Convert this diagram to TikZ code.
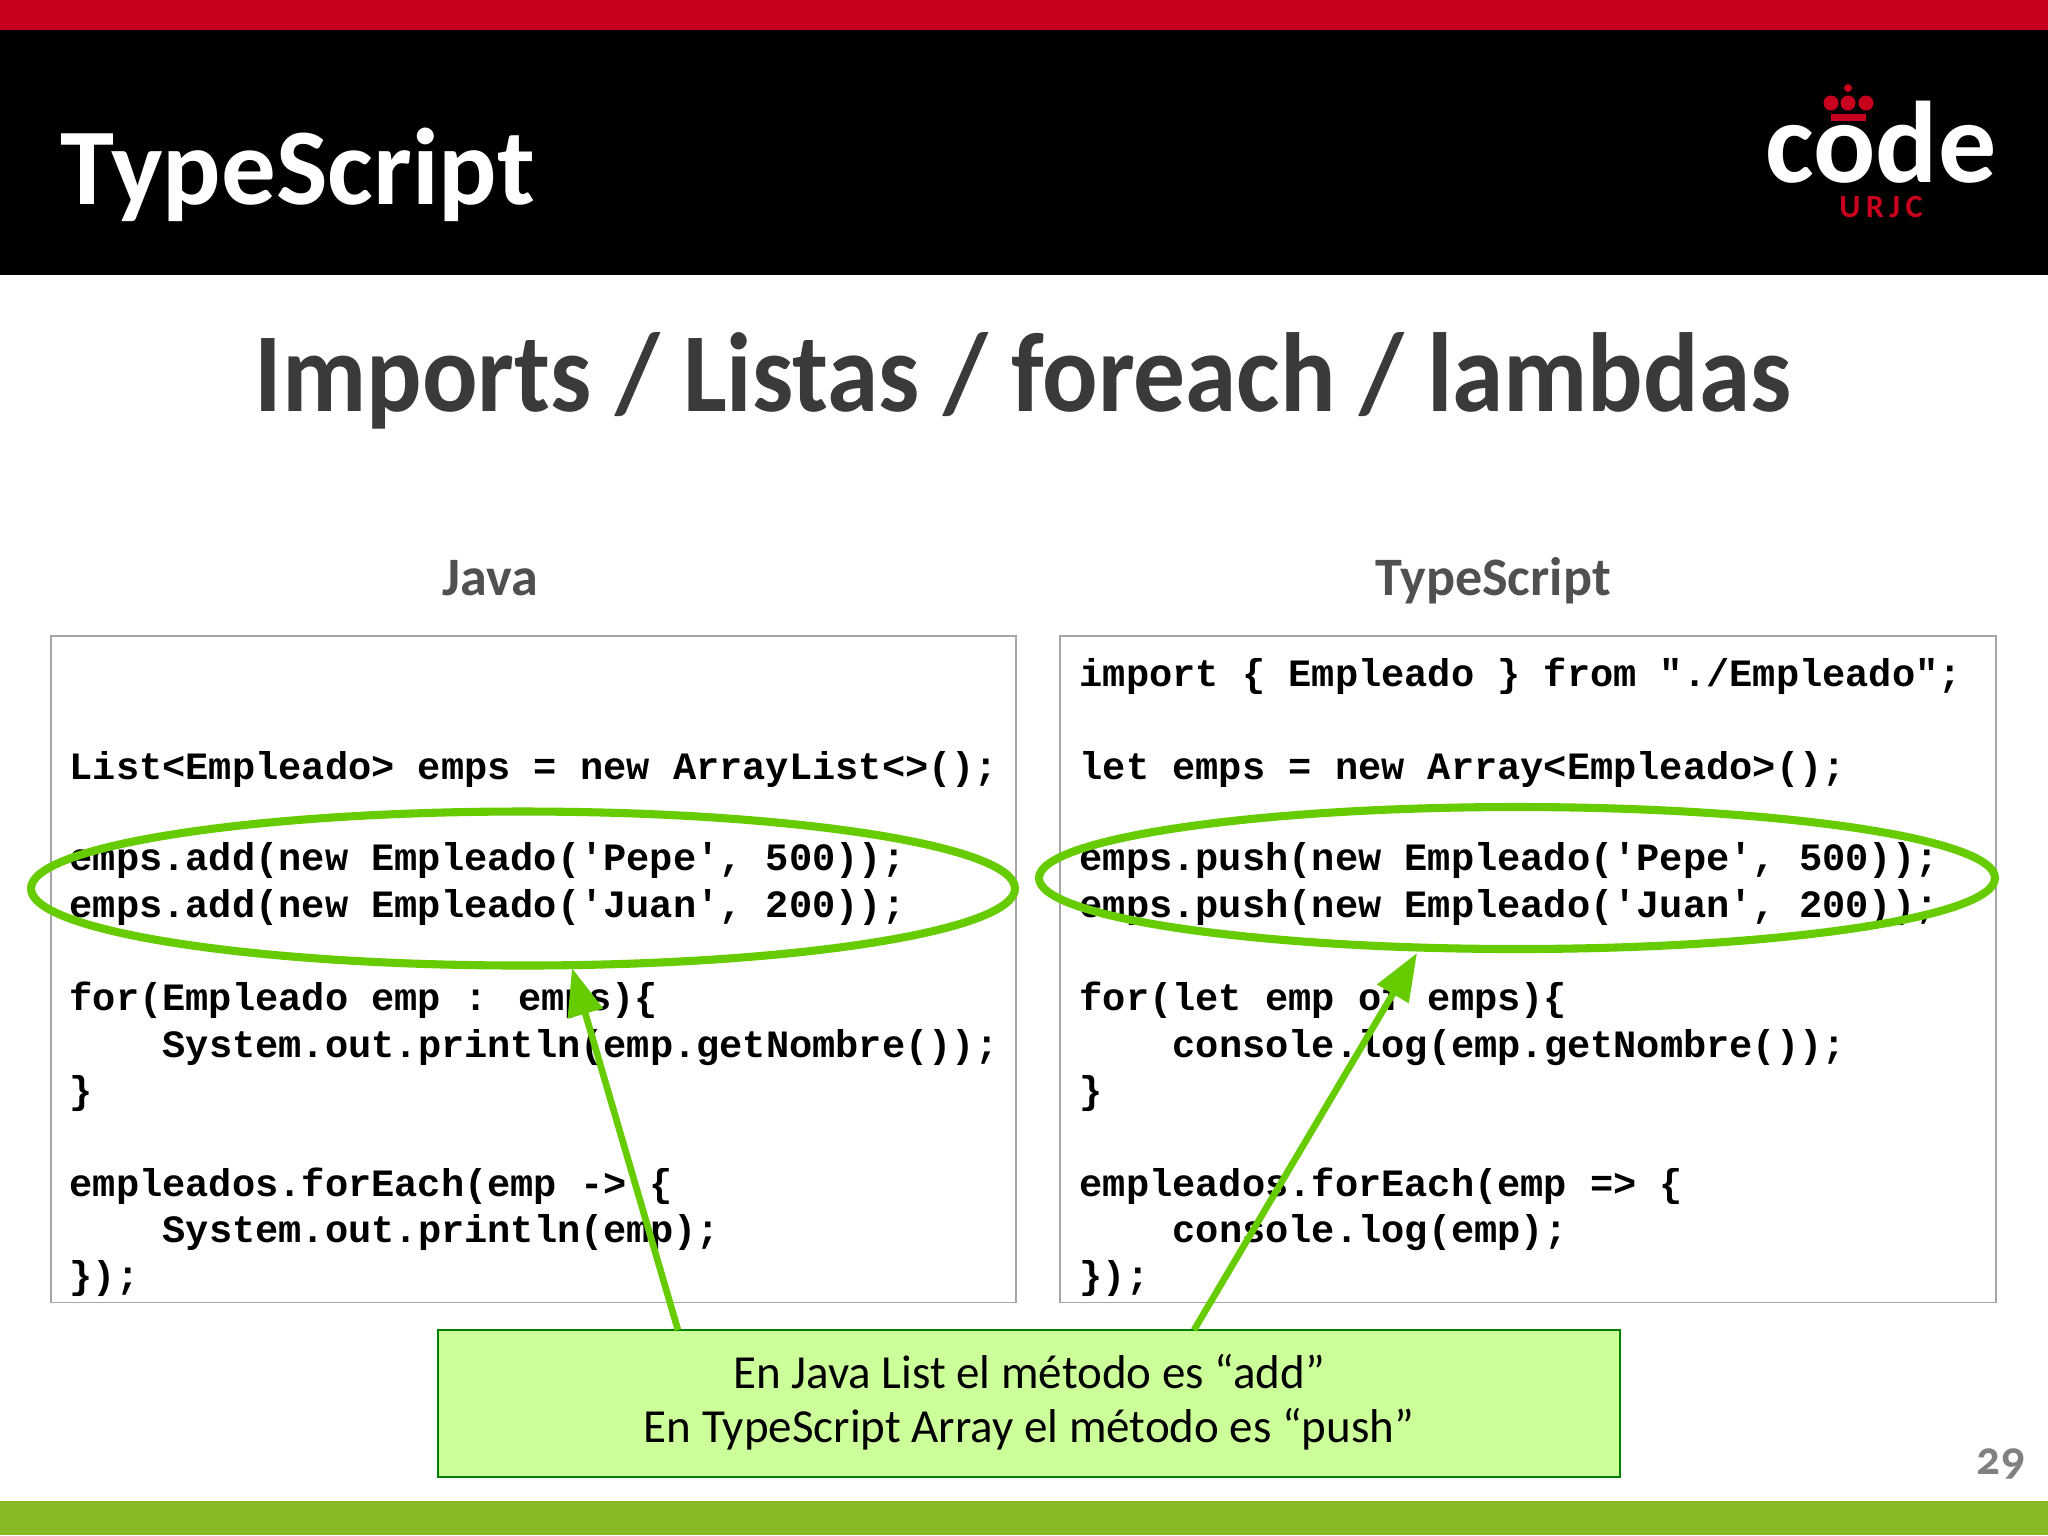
\documentclass[tikz,border=0pt]{standalone}
\usepackage{fontspec}
\setmainfont{Carlito}
\newfontfamily\codefont{Liberation Mono}
\newfontfamily\titlefont{Carlito}[FakeStretch=.92]
\newfontfamily\notefont{Carlito}[FakeStretch=.99]
\usetikzlibrary{arrows.meta}
\definecolor{urjcred}{HTML}{C8001E}
\definecolor{bargreen}{HTML}{8AB926}
\definecolor{markgreen}{HTML}{66CC00}
\definecolor{notefill}{HTML}{CCFF99}
\definecolor{noteline}{HTML}{008000}
\definecolor{titlegray}{HTML}{3A3A3C}
\definecolor{headgray}{HTML}{505052}
\tikzset{
  code/.style={anchor=base west, inner sep=0pt, font=\codefont\bfseries\fontsize{11}{13}\selectfont},
  codebox/.style={draw=gray!70, line width=.3pt, fill=white},
  headtext/.style={anchor=base, inner sep=0pt, text=headgray, font=\bfseries\fontsize{15.4}{18}\selectfont},
  notetext/.style={anchor=base, inner sep=0pt, font=\notefont\fontsize{13.5}{16}\selectfont},
  markring/.style={draw=markgreen, line width=2.3pt},
  pointer/.style={draw=markgreen, line width=1.9pt, -{Triangle[length=13.5pt,width=10pt]}}
}
\begin{document}
\begin{tikzpicture}[x=0.01cm,y=-0.01cm]
  \useasboundingbox (0,0) rectangle (2048,1535);
  % bars
  \fill[white] (0,0) rectangle (2048,1535);
  \fill[black] (0,30) rectangle (2048,275);
  \fill[urjcred] (0,0) rectangle (2048,30);
  \fill[bargreen] (0,1501) rectangle (2048,1535);
  \node[anchor=base west, inner sep=0pt, text=white, font=\bfseries\fontsize{31}{36}\selectfont] (deck) at (60,204) {TypeScript};
  % logo
  \node[anchor=base, inner sep=0pt, text depth=0pt, text=white, font=\bfseries\fontsize{33}{38}\selectfont] (logo) at (1881,182) {code};
  \node[anchor=base, inner sep=0pt, text=urjcred, font=\bfseries\fontsize{9.2}{11}\selectfont] (urjc) at (1881,217) {U\,R\,J\,C};
  \fill[urjcred] (1831,103) circle (7.5) (1848,103) circle (7.5) (1866,103) circle (7.5) (1848,88) circle (4);
  \fill[urjcred] (1831,114) rectangle (1866,121);
  % titles
  \node[anchor=base, inner sep=0pt, text=titlegray, font=\titlefont\bfseries\fontsize{32}{38}\selectfont] (title) at (1023,411) {Imports / Listas / foreach / lambdas};
  \node[headtext] (javahead) at (490,595) {Java};
  \node[headtext] (tshead) at (1493,595) {TypeScript};
  % boxes
  \draw[codebox] (51,636) rectangle (1016,1302);
  \draw[codebox] (1060,636) rectangle (1996,1302);
  % java
  \node[code] (j1) at (69,779) {List<Empleado> emps = new ArrayList<>();};
  \node[code] (j2) at (69,870) {emps.add(new Empleado('Pepe', 500));};
  \node[code] (j3) at (69,917) {emps.add(new Empleado('Juan', 200));};
  \node[code] (j4) at (69,1010) {for(Empleado emp : emps)\{};
  \node[code] (j5) at (162,1057) {System.out.println(emp.getNombre());};
  \node[code] (j6) at (69,1103) {\}};
  \node[code] (j7) at (69,1196) {empleados.forEach(emp -> \{};
  \node[code] (j8) at (162,1242) {System.out.println(emp);};
  \node[code] (j9) at (69,1288) {\});};
  % typescript
  \node[code] (t0) at (1079,686) {import \{ Empleado \} from "./Empleado";};
  \node[code] (t1) at (1079,779) {let emps = new Array<Empleado>();};
  \node[code] (t2) at (1079,870) {emps.push(new Empleado('Pepe', 500));};
  \node[code] (t3) at (1079,917) {emps.push(new Empleado('Juan', 200));};
  \node[code] (t4) at (1079,1010) {for(let emp of emps)\{};
  \node[code] (t5) at (1172,1057) {console.log(emp.getNombre());};
  \node[code] (t6) at (1079,1103) {\}};
  \node[code] (t7) at (1079,1196) {empleados.forEach(emp => \{};
  \node[code] (t8) at (1172,1242) {console.log(emp);};
  \node[code] (t9) at (1079,1288) {\});};
  % marks
  \draw[markring] (523,888.5) ellipse (492 and 77);
  \draw[markring] (1517,878) ellipse (478 and 71);
  % note
  \node[draw=noteline, fill=notefill, line width=.6pt, minimum width=11.82cm, minimum height=1.47cm, inner sep=0pt] (note) at (1029,1403.5) {};
  \node[notetext] (line1) at (1029,1388) {En Java List el método es “add”};
  \node[notetext] (line2) at (1029,1442) {En TypeScript Array el método es “push”};
  \coordinate (javafoot) at (678,1330);
  \coordinate (tsfoot) at (1194,1330);
  \coordinate (javatip) at (572,968);
  \coordinate (tstip) at (1417,953);
  \draw[pointer] (javafoot) -- (javatip);
  \draw[pointer] (tsfoot) -- (tstip);
  % page number
  \node[anchor=base, inner sep=0pt, text=gray, font=\bfseries\fontsize{13.5}{16}\selectfont\addfontfeature{Numbers=OldStyle}] (page) at (2001,1474) {29};
\end{tikzpicture}
\end{document}
